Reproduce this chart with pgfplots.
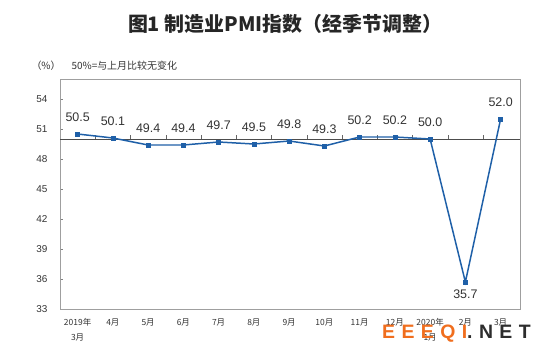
\documentclass[border=0pt]{standalone}
\usepackage{fontspec}
\usepackage{pgfplots}
\pgfplotsset{compat=1.18}
\setmainfont{Liberation Sans}
\newfontfamily\cjk{Noto Sans CJK SC}
\definecolor{pmiblue}{RGB}{31,96,168}
\definecolor{wmorange}{RGB}{240,110,30}
\definecolor{wmdark}{RGB}{45,45,45}
\begin{document}
\begin{tikzpicture}[x=1bp,y=1bp]
\path[use as bounding box] (0,0) rectangle (550,357);
\begin{axis}[
  at={(60bp,48bp)}, anchor=south west,
  scale only axis, width=460bp, height=230bp,
  xmin=-0.5, xmax=12.55, ymin=33, ymax=56,
  axis line style={draw=gray!75, line width=0.6pt},
  xtick={0,...,12},
  xticklabels={{2019年\\3月},4月,5月,6月,7月,8月,9月,10月,11月,12月,{2020年\\1月},2月,3月},
  xticklabel style={font=\cjk\fontsize{8.5}{15}\selectfont, align=center, anchor=north, yshift=-6bp, text=black!80},
  major x tick style={draw=none},
  ytick={33,36,...,54},
  ytick pos=left, tick align=inside,
  major tick length=3bp,
  yticklabel style={font=\fontsize{10}{11}\selectfont, text=black!80, xshift=-9bp},
  /pgf/number format/assume math mode=true,
  clip=false,
]
\draw[black!70, line width=0.6pt] (axis cs:-0.5,50) -- (axis cs:12.55,50);
\pgfplotsinvokeforeach{0.5,1.5,2.5,3.5,4.5,5.5,6.5,7.5,8.5,9.5,10.5,11.5}{
  \draw[black!60, line width=0.5pt] (axis cs:#1,50) -- (axis cs:#1,50.4);
}
\addplot[pmiblue, line width=1.5pt, mark=square*, mark size=2bp, mark options={line width=0.3pt}]
coordinates {(0,50.5)(1,50.1)(2,49.4)(3,49.4)(4,49.7)(5,49.5)(6,49.8)(7,49.3)(8,50.2)(9,50.2)(10,50.0)(11,35.7)(12,52.0)};
\addplot[draw=none, mark=none, nodes near coords, point meta=y,
  nodes near coords style={font=\fontsize{12.5}{14}\selectfont, text=black!80, anchor=south, yshift=9bp, /pgf/number format/.cd, fixed, fixed zerofill, precision=1}]
coordinates {(0,50.5)(1,50.1)(2,49.4)(3,49.4)(4,49.7)(5,49.5)(6,49.8)(7,49.3)(8,50.2)(9,50.2)(10,50.0)(12,52.0)};
\addplot[draw=none, mark=none, nodes near coords, point meta=y,
  nodes near coords style={font=\fontsize{12.5}{14}\selectfont, text=black!80, anchor=north, yshift=-4bp, /pgf/number format/.cd, fixed, fixed zerofill, precision=1}]
coordinates {(11,35.7)};
\end{axis}
\node[font=\cjk\bfseries\fontsize{20}{22}\selectfont, text=black!85] at (285,333) {图1\ 制造业PMI指数（经季节调整）};
\node[font=\cjk\fontsize{10}{12}\selectfont, text=black!80, anchor=west] at (28,291) {（\%）};
\node[font=\cjk\fontsize{10}{12}\selectfont, text=black!80, anchor=west] at (68,291) {50\%=与上月比较无变化};
\node[font=\bfseries\fontsize{19.5}{20}\selectfont, anchor=west, inner sep=0pt] at (382,23)
  {\addfontfeature{LetterSpace=33}\textcolor{wmorange}{EEEQI}\textcolor{wmdark}{.NET}};
\end{tikzpicture}
\end{document}
